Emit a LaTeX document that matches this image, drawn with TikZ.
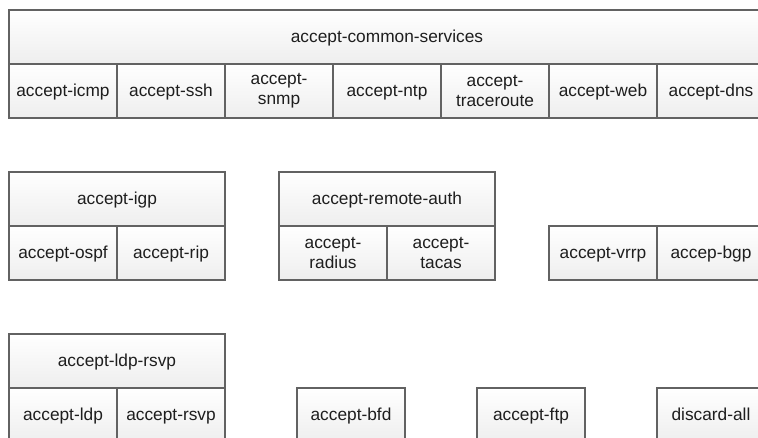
\documentclass[tikz,border=0pt]{standalone}
\usepackage{fontspec}
\setmainfont{Liberation Sans}
\definecolor{cellline}{RGB}{98,98,98}
\definecolor{cellbot}{RGB}{238,238,238}
\definecolor{celltext}{RGB}{30,30,30}
\begin{document}
\begin{tikzpicture}[x=1pt,y=-1pt,
  cell/.style={draw=cellline, line width=1.1pt, top color=white, bottom color=cellbot,
    minimum width=108pt, minimum height=54pt, inner sep=0pt, outer sep=0pt,
    anchor=north west, align=center, text height=13pt, text depth=2.5pt,
    font=\fontsize{17.3}{20}\selectfont, text=celltext},
  twoline/.style={text height=, text depth=},
  wide/.style={minimum width=#1}]
\clip (0,0) rectangle (758,438);

% accept-common-services
\node[cell, wide=756pt] (common) at (9,10) {accept-common-services};
\node[cell] (icmp)       at (9,64)   {accept-icmp};
\node[cell] (ssh)        at (117,64) {accept-ssh};
\node[cell, twoline] (snmp) at (225,64) {accept-\\snmp};
\node[cell] (ntp)        at (333,64) {accept-ntp};
\node[cell, twoline] (traceroute) at (441,64) {accept-\\traceroute};
\node[cell] (web)        at (549,64) {accept-web};
\node[cell] (dns)        at (657,64) {accept-dns};

% accept-igp
\node[cell, wide=216pt] (igp) at (9,172) {accept-igp};
\node[cell] (ospf) at (9,226)   {accept-ospf};
\node[cell] (rip)  at (117,226) {accept-rip};

% accept-remote-auth
\node[cell, wide=216pt] (remoteauth) at (279,172) {accept-remote-auth};
\node[cell, twoline] (radius) at (279,226) {accept-\\radius};
\node[cell, twoline] (tacas)  at (387,226) {accept-\\tacas};

% vrrp / bgp
\node[cell] (vrrp) at (549,226) {accept-vrrp};
\node[cell] (bgp)  at (657,226) {accep-bgp};

% accept-ldp-rsvp
\node[cell, wide=216pt] (ldprsvp) at (9,334) {accept-ldp-rsvp};
\node[cell] (ldp)  at (9,388)   {accept-ldp};
\node[cell] (rsvp) at (117,388) {accept-rsvp};

% single terms
\node[cell] (bfd)     at (297,388) {accept-bfd};
\node[cell] (ftp)     at (477,388) {accept-ftp};
\node[cell] (discard) at (657,388) {discard-all};
\end{tikzpicture}
\end{document}
